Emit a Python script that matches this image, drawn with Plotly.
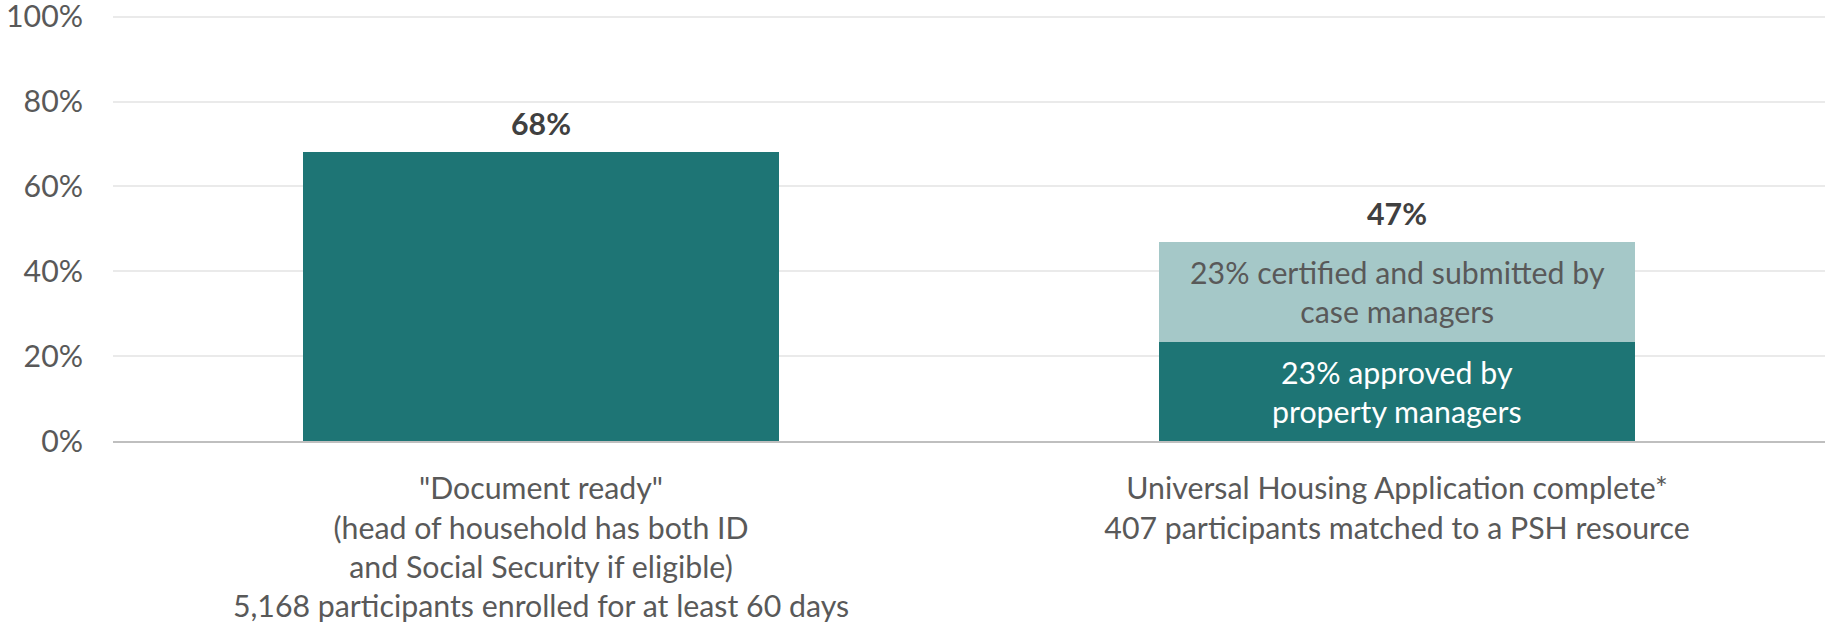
import plotly.graph_objects as go

categories = ['"Document ready"<br>(head of household has both ID<br>and Social Security if eligible)<br>5,168 participants enrolled for at least 60 days',
              'Universal Housing Application complete*<br>407 participants matched to a PSH resource']
doc_ready = [68.0, None]
approved = [None, 23.4]
certified = [None, 23.5]
total_labels = ["68%", "47%"]
approved_label = "23% approved by<br>property managers"
certified_label = "23% certified and submitted by<br>case managers"
y_ticks = [0, 20, 40, 60, 80, 100]
y_ticktext = ["0%", "20%", "40%", "60%", "80%", "100%"]

DARK = "#1E7575"
LIGHT = "#A5C8C8"
FONT = "Lato"
FS = 30.3

fig = go.Figure()
fig.add_trace(go.Bar(x=categories, y=doc_ready, marker=dict(color=DARK, line=dict(width=0)), hoverinfo="skip"))
fig.add_trace(go.Bar(x=categories, y=approved, marker=dict(color=DARK, line=dict(width=0)), hoverinfo="skip"))
fig.add_trace(go.Bar(x=categories, y=certified, marker=dict(color=LIGHT, line=dict(width=0)), hoverinfo="skip"))

totals = [doc_ready[0], approved[1] + certified[1]]
annotations = []
for i, cat in enumerate(categories):
    annotations.append(dict(x=cat, y=totals[i], text="<b>" + total_labels[i] + "</b>", showarrow=False,
                            yanchor="bottom", yshift=9, font=dict(family=FONT, size=FS, color="#404040")))
annotations.append(dict(x=categories[1], y=approved[1] / 2, text=approved_label, showarrow=False,
                        font=dict(family=FONT, size=FS, color="white")))
annotations.append(dict(x=categories[1], y=approved[1] + certified[1] / 2, text=certified_label, showarrow=False,
                        font=dict(family=FONT, size=FS, color="#595959")))

fig.update_layout(
    width=1825, height=624,
    margin=dict(l=113, r=0, t=15, b=183),
    barmode="stack", bargap=0.444,
    showlegend=False,
    plot_bgcolor="white", paper_bgcolor="white",
    font=dict(family=FONT, size=FS, color="#595959"),
    annotations=annotations,
    xaxis=dict(showgrid=False, showline=True, linecolor="#BFBFBF", linewidth=1.5,
               ticks="outside", ticklen=20, tickcolor="rgba(0,0,0,0)", automargin=False,
               tickfont=dict(family=FONT, size=FS, color="#595959")),
    yaxis=dict(range=[0, 100.4], tickvals=y_ticks, ticktext=y_ticktext, showgrid=True,
               gridcolor="#EAEAEA", gridwidth=1.5, zeroline=False, showline=False,
               ticklabelstandoff=29, automargin=False, ticklabeloverflow="allow",
               tickfont=dict(family=FONT, size=FS, color="#595959")),
)
fig.write_html("out.html", config={"displayModeBar": False},
               post_script="document.body.style.margin='0';document.body.style.overflow='hidden';")
